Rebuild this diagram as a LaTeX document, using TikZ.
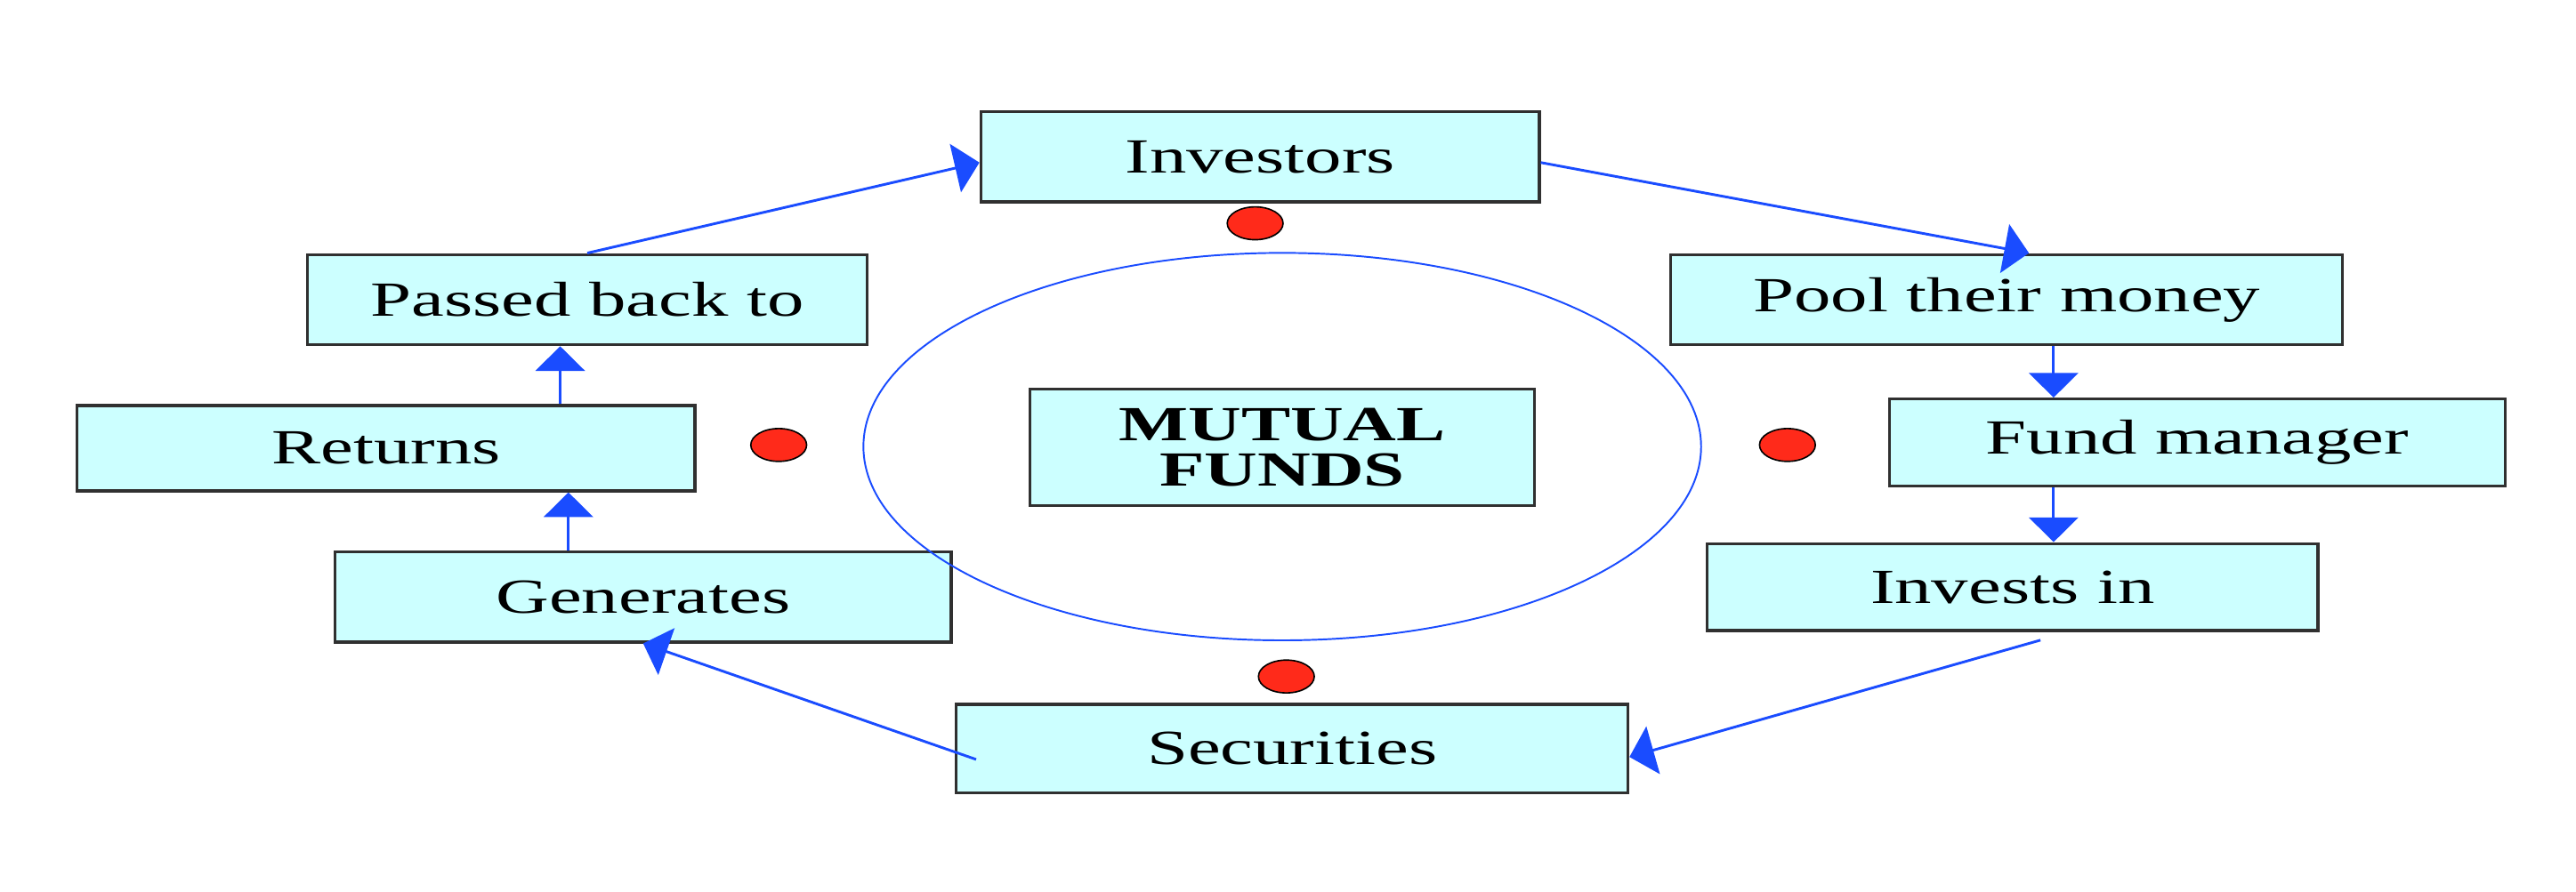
\documentclass[tikz,border=0pt]{standalone}
\usepackage{fontspec}
\setmainfont{Liberation Serif}[FakeStretch=1.5]
\usetikzlibrary{positioning}
\usetikzlibrary{shapes.geometric, arrows.meta, positioning}
\definecolor{boxfill}{HTML}{CCFFFF}
\definecolor{boxline}{HTML}{303030}
\definecolor{flowblue}{HTML}{1A4CFF}
\definecolor{dotred}{HTML}{FF2A1A}
\tikzstyle{fundbox} = [draw=boxline, line width=1pt, fill=boxfill, inner sep=0pt, font=\fontsize{17}{16}\selectfont]
\tikzstyle{arrow} = [draw=flowblue, line width=0.9pt, -{Triangle[length=0.3cm, width=0.6cm]}]
\tikzstyle{dot} = [draw=black, fill=dotred, ellipse, inner sep=0pt, line width=0.5pt, minimum width=0.68cm, minimum height=0.4cm]

\begin{document}
\begin{tikzpicture}[x=0.02cm, y=-0.02cm]
    \useasboundingbox (0,0) rectangle (1568,543);

    % Boxes of the cycle
    \node[fundbox, minimum width=6.8cm, minimum height=1.1cm] (inv) at (767,95.5) {Investors};
    \node[fundbox, minimum width=8.18cm, minimum height=1.1cm] (pool) at (1221.5,182.5) {Pool their money};
    \node[fundbox, minimum width=7.5cm, minimum height=1.06cm] (fund) at (1337.5,269.5) {Fund manager};
    \node[fundbox, minimum width=7.44cm, minimum height=1.06cm] (invest) at (1225,357.5) {Invests in};
    \node[fundbox, minimum width=8.18cm, minimum height=1.08cm] (sec) at (786.5,456) {Securities};
    \node[fundbox, minimum width=7.5cm, minimum height=1.1cm] (gen) at (391.5,363.5) {Generates};
    \node[fundbox, minimum width=7.52cm, minimum height=1.04cm] (ret) at (235,273) {Returns};
    \node[fundbox, minimum width=6.82cm, minimum height=1.1cm] (pass) at (357.5,182.5) {Passed back to};

    % Centre
    \node[fundbox, minimum width=6.14cm, minimum height=1.42cm, align=center, font=\fontsize{17}{16}\selectfont\bfseries] (mf) at (780.5,272.5) {MUTUAL\\FUNDS};
    \node[draw=flowblue, line width=0.6pt, ellipse, inner sep=0pt, minimum width=10.2cm, minimum height=4.72cm] (ring) at (780.5,272) {};

    % Red dots
    \node[dot] (dtop) at (764,136) {};
    \node[dot] (dleft) at (474,271) {};
    \node[dot] (dright) at (1088,271) {};
    \node[dot] (dbot) at (783,412) {};

    % Arrows
    \coordinate (c1) at ([xshift=0.57cm]pool.south);
    \coordinate (c2) at ([xshift=-1.75cm]fund.south);
    \coordinate (c3) at ([xshift=-0.91cm]gen.north);
    \coordinate (c4) at ([xshift=2.12cm]ret.north);
    \draw[arrow] (pass.north) -- ([yshift=-0.07cm]inv.west);
    \draw[arrow] ([yshift=-0.07cm]inv.east) -- ([xshift=0.27cm]pool.north);
    \draw[arrow] (c1) -- (c1 |- fund.north);
    \draw[arrow] (c2) -- (c2 |- invest.north);
    \draw[arrow] ([xshift=0.34cm, yshift=-0.1cm]invest.south) -- ([yshift=-0.1cm]sec.east);
    \draw[arrow] ([xshift=0.26cm, yshift=-0.13cm]sec.west) -- (gen.south);
    \draw[arrow] (c3) -- (c3 |- ret.south);
    \draw[arrow] (c4) -- (c4 |- pass.south);
\end{tikzpicture}
\end{document}
